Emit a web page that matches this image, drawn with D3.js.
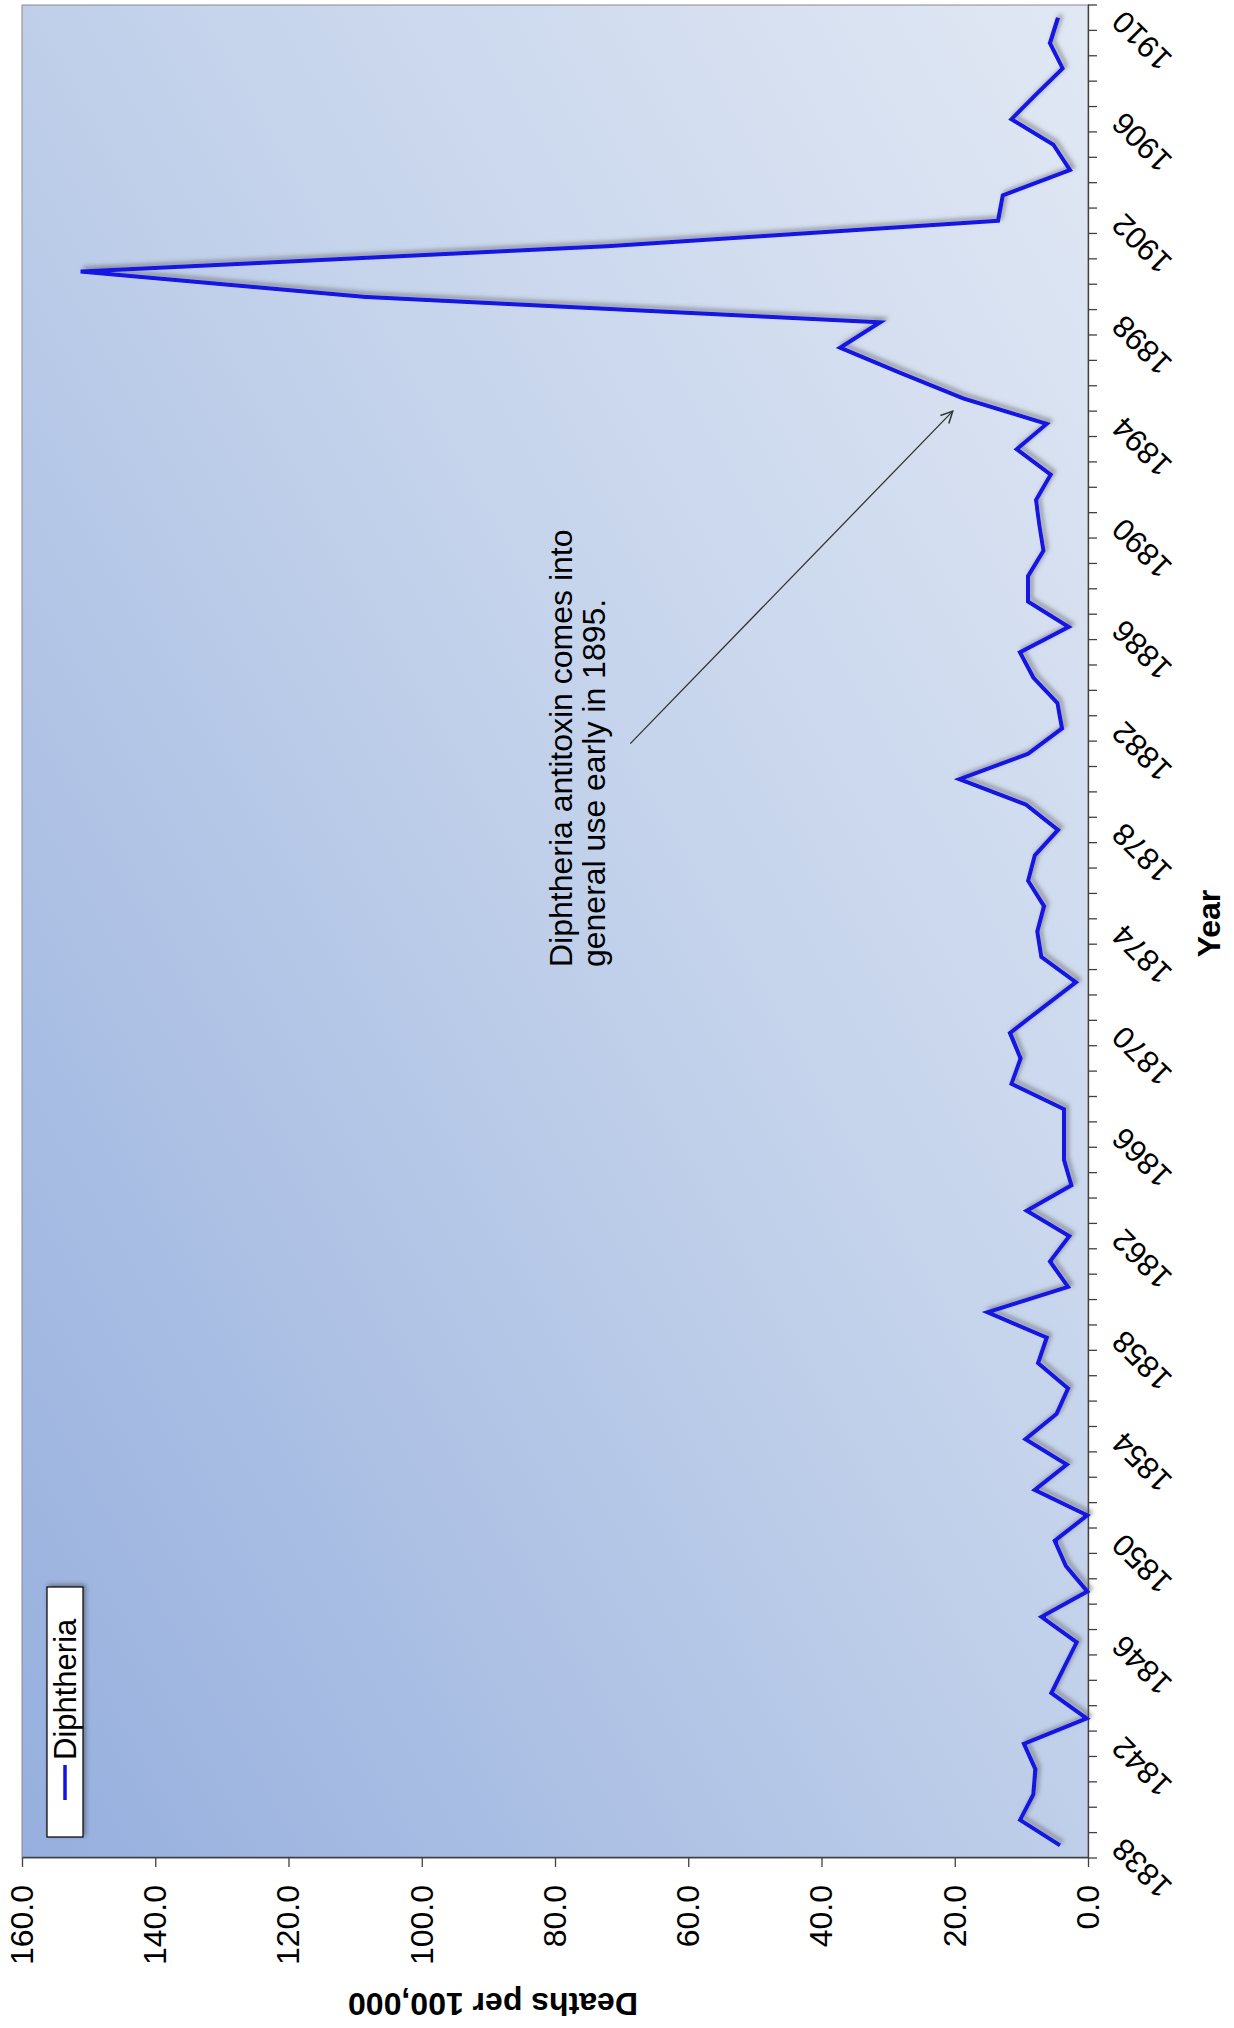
<!DOCTYPE html>
<html>
<head>
<meta charset="utf-8">
<script src="https://cdn.jsdelivr.net/npm/d3@7/dist/d3.min.js"></script>
<style>
  html, body { margin: 0; padding: 0; background: #ffffff; }
  svg { display: block; }
  text { font-family: "Liberation Sans", Arial, sans-serif; fill: #000; }
</style>
</head>
<body>
<svg id="chart" width="1234" height="2028"></svg>
<script>
// ---------------- data ----------------
const years = [1838,1839,1840,1841,1842,1843,1844,1845,1846,1847,1848,1849,1850,
  1851,1852,1853,1854,1855,1856,1857,1858,1859,1860,1861,1862,1863,1864,1865,1866,
  1867,1868,1869,1870,1871,1872,1873,1874,1875,1876,1877,1878,1879,1880,1881,1882,
  1883,1884,1885,1886,1887,1888,1889,1890,1891,1892,1893,1894,1895,1896,1897,1898,
  1899,1900,1901,1902,1903,1904,1905,1906,1907,1908,1909,1910];
const diphtheria = [4.2,10.2,8.2,7.9,9.6,0.2,5.5,3.6,1.7,7.0,0.1,3.3,5.0,
  0.1,8.0,3.2,9.4,4.7,3.0,7.5,6.2,15.1,3.0,5.7,2.8,9.2,2.5,3.6,3.6,
  3.6,11.5,10.1,11.7,6.8,1.8,7.0,7.6,6.6,9.0,8.0,4.5,9.3,19.3,9.0,3.9,
  4.6,8.2,10.2,2.9,9.0,9.0,6.7,7.3,7.8,5.6,10.7,6.2,18.7,28.1,37.2,31.2,
  108.5,151.2,72.0,13.5,12.8,2.7,5.2,11.5,7.7,3.8,5.7,4.5];
const yearLabels = [1838,1842,1846,1850,1854,1858,1862,1866,1870,1874,1878,
  1882,1886,1890,1894,1898,1902,1906,1910];
const valueTicks = [0,20,40,60,80,100,120,140,160];
const seriesName = "Diphtheria";
const yTitle = "Deaths per 100,000";
const xTitle = "Year";
const noteLines = ["Diphtheria antitoxin comes into", "general use early in 1895."];
// annotation anchors in data units [year, value]
const noteAnchor = [1872.6, 77.4];
const arrowFrom = [1881.4, 68.7];
const arrowTo = [1894.5, 20.3];

// ---------------- layout (chart drawn unrotated, then turned 90° CCW) ----------------
const OW = 2028, OH = 1234;
const plot = { left: 170, right: 2023, top: 22, bottom: 1088 };

const svg = d3.select("#chart");
const defs = svg.append("defs");

const grad = defs.append("linearGradient").attr("id", "bg")
  .attr("x1", 0).attr("y1", 0).attr("x2", 1).attr("y2", 1);
grad.append("stop").attr("offset", "0%").attr("stop-color", "#96afde");
grad.append("stop").attr("offset", "55%").attr("stop-color", "#c3d2eb");
grad.append("stop").attr("offset", "100%").attr("stop-color", "#e1e8f4");

const sh = defs.append("filter").attr("id", "shadow")
  .attr("x", "-10%").attr("y", "-10%").attr("width", "120%").attr("height", "120%");
sh.append("feDropShadow").attr("dx", 3).attr("dy", 3).attr("stdDeviation", 2)
  .attr("flood-color", "#555").attr("flood-opacity", 0.55);

const boxSh = defs.append("filter").attr("id", "boxshadow")
  .attr("x", "-20%").attr("y", "-40%").attr("width", "140%").attr("height", "180%");
boxSh.append("feDropShadow").attr("dx", 2).attr("dy", 2).attr("stdDeviation", 2)
  .attr("flood-color", "#333").attr("flood-opacity", 0.5);

defs.append("marker").attr("id", "arrow")
  .attr("viewBox", "0 0 12 12").attr("refX", 11).attr("refY", 6)
  .attr("markerWidth", 14).attr("markerHeight", 14)
  .attr("markerUnits", "userSpaceOnUse").attr("orient", "auto")
  .append("path").attr("d", "M1,1 L11,6 L1,11")
  .attr("fill", "none").attr("stroke", "#333").attr("stroke-width", 1.3);

const g = svg.append("g").attr("transform", `translate(0,${OW}) rotate(-90)`);

const x = d3.scaleBand().domain(years).range([plot.left, plot.right]).padding(0);
const bw = x.bandwidth();
const xc = yr => x(years[0]) + (yr - years[0] + 0.5) * bw; // continuous position
const y = d3.scaleLinear().domain([0, 160]).range([plot.bottom, plot.top]);

// plot area
g.append("rect")
  .attr("x", plot.left).attr("y", plot.top)
  .attr("width", plot.right - plot.left).attr("height", plot.bottom - plot.top)
  .attr("fill", "url(#bg)").attr("stroke", "#8a8a8a").attr("stroke-width", 1);

// value axis
const yAxis = d3.axisLeft(y).tickValues(valueTicks).tickFormat(d3.format(".1f"))
  .tickSizeInner(9).tickSizeOuter(0).tickPadding(18);
const ya = g.append("g").attr("transform", `translate(${plot.left},0)`).call(yAxis);
ya.select(".domain").attr("stroke", "#404040").attr("stroke-width", 1.3);
ya.selectAll(".tick line").attr("stroke", "#404040").attr("stroke-width", 1.3);
ya.selectAll(".tick text").attr("font-size", 32).attr("fill", "#000")
  .attr("font-family", '"Liberation Sans", Arial, sans-serif');

// year axis
const xAxis = d3.axisBottom(x).tickValues(yearLabels).tickSizeInner(0).tickSizeOuter(0).tickPadding(0);
const xa = g.append("g").attr("transform", `translate(0,${plot.bottom})`).call(xAxis);
xa.select(".domain").attr("stroke", "#404040").attr("stroke-width", 1.3);
xa.selectAll(".tick text")
  .attr("font-size", 31).attr("fill", "#000")
  .attr("font-family", '"Liberation Sans", Arial, sans-serif')
  .attr("text-anchor", "end").attr("y", null).attr("dy", null)
  .attr("transform", "translate(9,37) rotate(-45)");
// tick marks between categories
const bounds = years.map(d => x(d)).concat([x(years[years.length - 1]) + bw]);
xa.selectAll("line.btick").data(bounds).enter().append("line").attr("class", "btick")
  .attr("x1", d => d).attr("x2", d => d).attr("y1", 0).attr("y2", 9)
  .attr("stroke", "#404040").attr("stroke-width", 1.3);

// axis titles
g.append("text").attr("transform", `translate(35,493) rotate(-90)`)
  .attr("text-anchor", "middle").attr("font-size", 32).attr("font-weight", "bold")
  .text(yTitle);
g.append("text").attr("x", (plot.left + plot.right) / 2 + 8).attr("y", 1220)
  .attr("text-anchor", "middle").attr("font-size", 32).attr("font-weight", "bold")
  .text(xTitle);

// series line
const pts = years.map((yr, i) => ({ year: yr, value: diphtheria[i] }));
const line = d3.line().x(d => x(d.year) + bw / 2).y(d => y(d.value));
g.append("path").datum(pts)
  .attr("d", line).attr("fill", "none")
  .attr("stroke", "#1212e2").attr("stroke-width", 4)
  .attr("stroke-linejoin", "miter").attr("filter", "url(#shadow)");

// annotation
const note = g.append("text").attr("font-size", 32).attr("fill", "#111");
noteLines.forEach((t, i) => {
  note.append("tspan").attr("x", xc(noteAnchor[0])).attr("y", y(noteAnchor[1]) + i * 33).text(t);
});
g.append("line")
  .attr("x1", xc(arrowFrom[0])).attr("y1", y(arrowFrom[1]))
  .attr("x2", xc(arrowTo[0])).attr("y2", y(arrowTo[1]))
  .attr("stroke", "#333").attr("stroke-width", 1.3).attr("marker-end", "url(#arrow)");

// legend
const lg = g.append("g").attr("transform", "translate(191,47)");
lg.append("rect").attr("width", 250).attr("height", 36)
  .attr("fill", "#fff").attr("stroke", "#000").attr("stroke-width", 1.2)
  .attr("filter", "url(#boxshadow)");
lg.append("line").attr("x1", 37).attr("x2", 72).attr("y1", 18).attr("y2", 18)
  .attr("stroke", "#1212e2").attr("stroke-width", 3.5);
lg.append("text").attr("x", 77).attr("y", 18).attr("dy", "0.36em")
  .attr("font-size", 31).text(seriesName);
</script>
</body>
</html>
